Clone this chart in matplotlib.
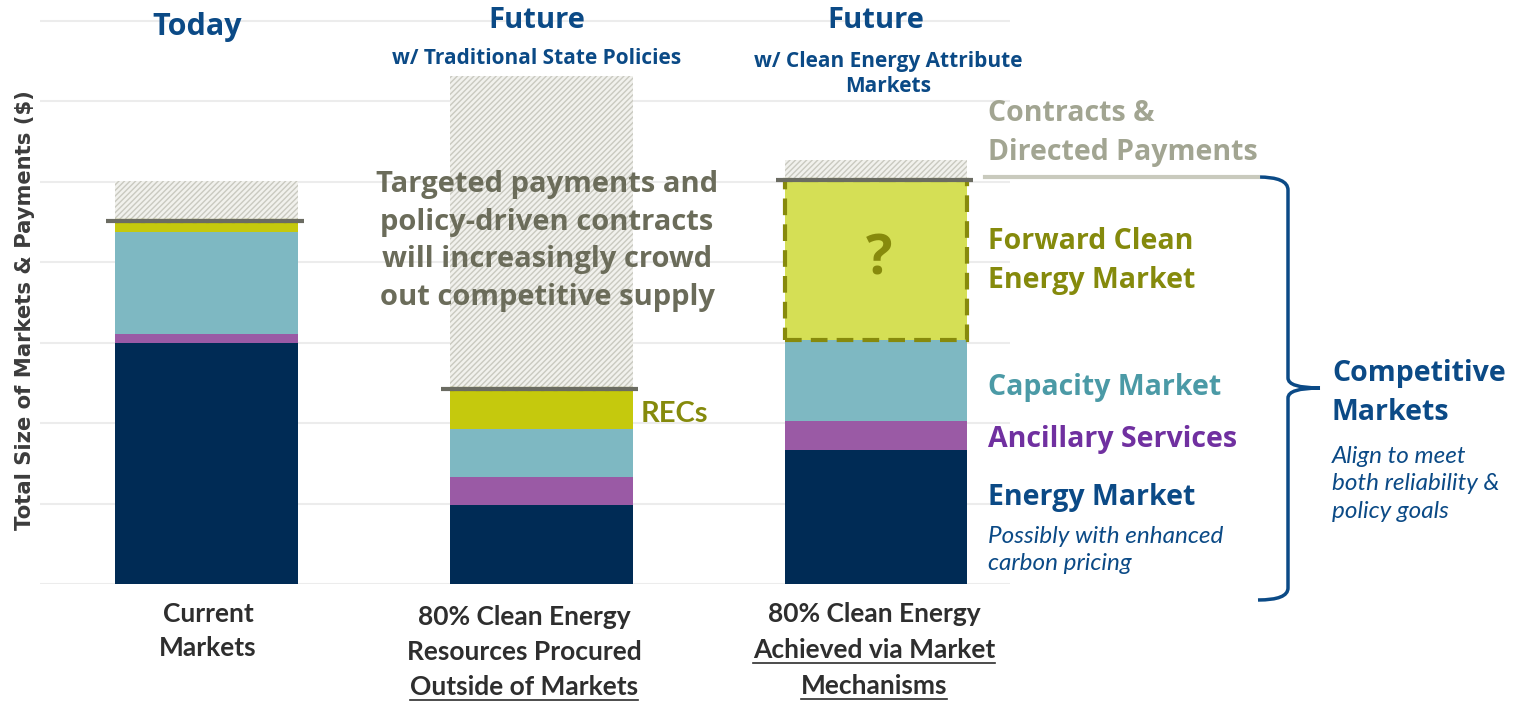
import numpy as np
import matplotlib
matplotlib.use('Agg')
import matplotlib.pyplot as plt
from matplotlib.path import Path
from matplotlib.patches import PathPatch

# ==== DATA ====
categories = [0, 1, 2]
energy = [3.00, 0.98, 1.66]
ancillary = [0.10, 0.35, 0.36]
capacity = [1.27, 0.60, 1.01]
recs = [0.14, 0.49, 0.00]
forward_clean = [0.00, 0.00, 1.99]
contracts = [0.49, 3.89, 0.25]

headers = ["Today", "Future", "Future"]
subheaders = ["", "w/ Traditional State Policies", "w/ Clean Energy Attribute\nMarkets"]
xlabels = [
    [("Current", False), ("Markets", False)],
    [("80% Clean Energy", False), ("Resources Procured", False), ("Outside of Markets", True)],
    [("80% Clean Energy", False), ("Achieved via Market", True), ("Mechanisms", True)],
]

# ==== COLORS ====
C_ENERGY = '#002b55'
C_ANC = '#9a5aa5'
C_CAP = '#7eb8c2'
C_REC = '#c5c90d'
C_FWD = '#d5df55'
C_FWD_EDGE = '#878a0c'
C_LINE = '#6b6c62'
BLUE = '#0b4a86'

plt.rcParams['hatch.linewidth'] = 1.0

W, H = 1518, 701
fig = plt.figure(figsize=(W / 100, H / 100), dpi=100, facecolor='white')

def fx(x):
    return x / W

def fy(y):
    return 1 - y / H

# axes placed in pixel space: x 40..1010, y baseline 584, unit 80.5px
ymax = 7.2
ax = fig.add_axes([fx(40), fy(584), fx(1010) - fx(40), (ymax * 80.5) / H])
ax.set_xlim(-0.497, 2.40)
ax.set_ylim(0, ymax)
ax.set_yticks(range(0, 8))
ax.grid(axis='y', color='#ececec', linewidth=1.5)
ax.set_axisbelow(True)
for s in ax.spines.values():
    s.set_visible(False)
ax.tick_params(left=False, bottom=False, labelleft=False, labelbottom=False)

x = np.array(categories)
bw = 0.546
e = np.array(energy)
a = np.array(ancillary)
c = np.array(capacity)
r = np.array(recs)
f = np.array(forward_clean)
k = np.array(contracts)

ax.bar(x, e, bw, color=C_ENERGY, zorder=2)
ax.bar(x, a, bw, bottom=e, color=C_ANC, zorder=2)
ax.bar(x, c, bw, bottom=e + a, color=C_CAP, zorder=2)
ax.bar(x, r, bw, bottom=e + a + c, color=C_REC, zorder=2)
total = e + a + c + r + f
ax.bar(x, f, bw, bottom=e + a + c + r, color=C_FWD, edgecolor=C_FWD_EDGE,
       linewidth=3, linestyle=(0, (4, 2.2)), zorder=3)
ax.bar(x, k, bw, bottom=total, color='#f1f1ed', edgecolor='#c9c9c0',
       hatch='//////', linewidth=0, zorder=2)
ax.hlines(total, x - 0.30, x + 0.29, color=C_LINE, linewidth=3, zorder=4)

ax.text(2.01, e[2] + a[2] + c[2] + f[2] / 2, "?", ha='center', va='center',
        fontsize=40, fontweight='bold', color=C_FWD_EDGE, family='Open Sans', zorder=5)

# ==== HEADERS ====
fig.text(fx(197), fy(27), headers[0], ha='center', va='center', fontsize=22,
         fontweight='bold', color=BLUE, family='Open Sans')
for i, hx in ((1, 537), (2, 876)):
    fig.text(fx(hx), fy(21), headers[i], ha='center', va='center', fontsize=21,
             fontweight='bold', color=BLUE, family='Open Sans')
fig.text(fx(537), fy(59), subheaders[1], ha='center', va='center', fontsize=15,
         fontweight='bold', color=BLUE, family='Open Sans')
fig.text(fx(888), fy(74), subheaders[2], ha='center', va='center', fontsize=15,
         fontweight='bold', color=BLUE, family='Open Sans', linespacing=1.3)

# ==== X LABELS ====
lab_x = [208, 524, 874]
lab_y = [[614, 648], [617, 652, 687], [614, 650, 686]]
fig.canvas.draw()
renderer = fig.canvas.get_renderer()
for i, lines in enumerate(xlabels):
    for j, (txt, under) in enumerate(lines):
        t = fig.text(fx(lab_x[i]), fy(lab_y[i][j]), txt, ha='center', va='center',
                     fontsize=19, fontweight='bold', color='#2e2e2e', family='Lato')
        if under:
            bb = t.get_window_extent(renderer)
            yy = bb.y0 - 1
            fig.add_artist(plt.Line2D([bb.x0 / W, bb.x1 / W], [yy / H, yy / H],
                                      color='#2e2e2e', linewidth=1.2))

# ==== Y LABEL ====
fig.text(fx(25), fy(310), "Total Size of Markets & Payments ($)", rotation=90,
         ha='center', va='center', fontsize=15.2, fontweight='bold', color='#3c3c3c')

# ==== ANNOTATIONS ====
fig.text(fx(547), fy(241), "Targeted payments and\npolicy-driven contracts\nwill increasingly crowd\nout competitive supply",
         ha='center', va='center', fontsize=21, fontweight='bold', color='#6b6c5a',
         family='Open Sans', linespacing=1.4)
fig.text(fx(641), fy(414), "RECs", ha='left', va='center', fontsize=21,
         fontweight='bold', color='#858a0c', family='Lato')

lx = 988
fig.text(fx(lx), fy(133), "Contracts &\nDirected Payments", ha='left', va='center',
         fontsize=20.5, fontweight='bold', color='#a2a592', family='Open Sans', linespacing=1.45)
fig.add_artist(plt.Line2D([fx(985), fx(1258)], [fy(177), fy(177)], color='#c9cabd', linewidth=3))
fig.text(fx(lx), fy(261), "Forward Clean\nEnergy Market", ha='left', va='center',
         fontsize=20.5, fontweight='bold', color='#858a0c', family='Open Sans', linespacing=1.45)
fig.text(fx(lx), fy(387), "Capacity Market", ha='left', va='center',
         fontsize=20.5, fontweight='bold', color='#4b9aa6', family='Open Sans')
fig.text(fx(lx), fy(440), "Ancillary Services", ha='left', va='center',
         fontsize=20.5, fontweight='bold', color='#7030a0', family='Open Sans')
fig.text(fx(lx), fy(498), "Energy Market", ha='left', va='center',
         fontsize=20.5, fontweight='bold', color=BLUE, family='Open Sans')
fig.text(fx(lx), fy(550), "Possibly with enhanced\ncarbon pricing", ha='left', va='center',
         fontsize=17.5, style='italic', color=BLUE, family='Lato', linespacing=1.35)

fig.text(fx(1332), fy(393), "Competitive\nMarkets", ha='left', va='center',
         fontsize=20.5, fontweight='bold', color=BLUE, family='Open Sans', linespacing=1.45)
fig.text(fx(1332), fy(484), "Align to meet\nboth reliability &\npolicy goals", ha='left', va='center',
         fontsize=17.5, style='italic', color=BLUE, family='Lato', linespacing=1.4)

# ==== BRACKET ====
bracket = [(1258, 177), (1288, 177), (1288, 190), (1288, 378), (1288, 388), (1320, 388),
           (1320, 388), (1288, 388), (1288, 398), (1288, 588), (1288, 600), (1258, 600)]
codes = [Path.MOVETO, Path.CURVE3, Path.CURVE3, Path.LINETO, Path.CURVE3, Path.CURVE3,
         Path.MOVETO, Path.CURVE3, Path.CURVE3, Path.LINETO, Path.CURVE3, Path.CURVE3]
verts = [(fx(px), fy(py)) for px, py in bracket]
fig.add_artist(PathPatch(Path(verts, codes), transform=fig.transFigure, fill=False,
                         edgecolor=BLUE, linewidth=2.5))

fig.savefig('out.png', dpi=100, facecolor='white')
